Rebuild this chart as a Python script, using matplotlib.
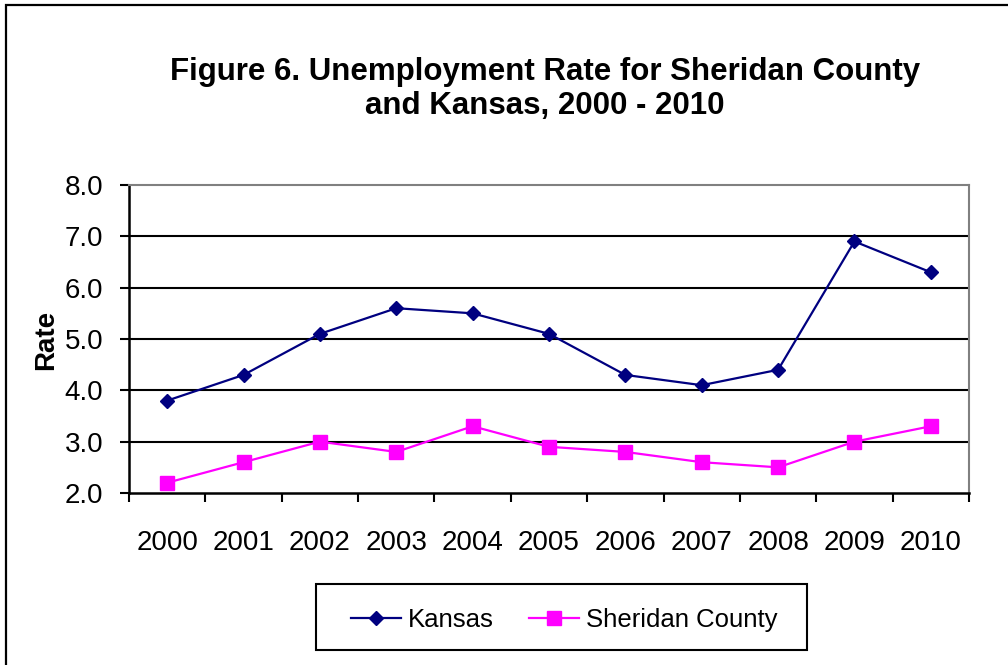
import matplotlib
matplotlib.use("Agg")
import matplotlib.pyplot as plt
from matplotlib.patches import Rectangle

years = ["2000", "2001", "2002", "2003", "2004", "2005", "2006", "2007", "2008", "2009", "2010"]
kansas = [3.8, 4.3, 5.1, 5.6, 5.5, 5.1, 4.3, 4.1, 4.4, 6.9, 6.3]
sheridan = [2.2, 2.6, 3.0, 2.8, 3.3, 2.9, 2.8, 2.6, 2.5, 3.0, 3.3]
yticks = [2.0, 3.0, 4.0, 5.0, 6.0, 7.0, 8.0]

plt.rcParams['font.family'] = ['Liberation Sans', 'DejaVu Sans']

W, H = 1008, 665
fig = plt.figure(figsize=(W / 100, H / 100), dpi=100)
fig.patch.set_facecolor('white')

# outer chart border (left and top visible)
fig.add_artist(Rectangle((6 / W, -0.05), 1.2, 1 - 5 / H + 0.05, transform=fig.transFigure,
                         fill=False, edgecolor='black', linewidth=1.6))

ax = fig.add_axes([129 / W, 1 - 493 / H, (969 - 129) / W, (493 - 185) / H])
x = list(range(len(years)))

ax.plot(x, kansas, color='#000080', linewidth=1.6, marker='D', markersize=7,
        markerfacecolor='#000080', markeredgecolor='#000080', label='Kansas', zorder=4)
ax.plot(x, sheridan, color='#FF00FF', linewidth=1.6, marker='s', markersize=10.5,
        markerfacecolor='#FF00FF', markeredgecolor='#FF00FF', label='Sheridan County', zorder=4)

ax.set_xlim(-0.5, len(years) - 0.5)
ax.set_ylim(2.0, 8.0)
ax.set_yticks(yticks)
ax.set_yticklabels([f"{v:.1f}" for v in yticks], fontsize=20)
ax.set_xticks(x)
ax.set_xticklabels(years, fontsize=20)
ax.tick_params(axis='x', length=0, pad=27)
ax.set_xticks([i - 0.5 for i in range(len(years) + 1)], minor=True)
ax.tick_params(axis='x', which='minor', length=6.5, width=1.5, direction='out', color='black')
ax.tick_params(axis='y', length=6.5, width=1.5, direction='out', pad=12, color='black')

for v in yticks[1:-1]:
    ax.axhline(v, color='black', linewidth=1.5, zorder=1)

ax.spines['left'].set_color('black')
ax.spines['left'].set_linewidth(1.8)
ax.spines['bottom'].set_color('black')
ax.spines['bottom'].set_linewidth(1.8)
ax.spines['top'].set_color('#808080')
ax.spines['top'].set_linewidth(1.5)
ax.spines['right'].set_color('#808080')
ax.spines['right'].set_linewidth(1.5)

fig.text(46 / W, 1 - 340 / H, 'Rate', rotation=90, ha='center', va='center',
         fontsize=20, fontweight='bold')

fig.text(545 / W, 1 - 89 / H, 'Figure 6. Unemployment Rate for Sheridan County\nand Kansas, 2000 - 2010',
         ha='center', va='center', fontsize=22.5, fontweight='bold', linespacing=1.15)

# legend frame
fig.add_artist(Rectangle((316 / W, 1 - 650 / H), (807 - 316) / W, (650 - 584) / H,
                         transform=fig.transFigure, fill=False, edgecolor='black', linewidth=1.5))
leg = fig.legend(loc='center', bbox_to_anchor=(564 / W, 1 - 620 / H), ncol=2, fontsize=18.5,
                 frameon=False, borderpad=0.0,
                 handlelength=1.95, columnspacing=1.36, handletextpad=0.27)

fig.savefig('out.png', dpi=100, facecolor='white')
